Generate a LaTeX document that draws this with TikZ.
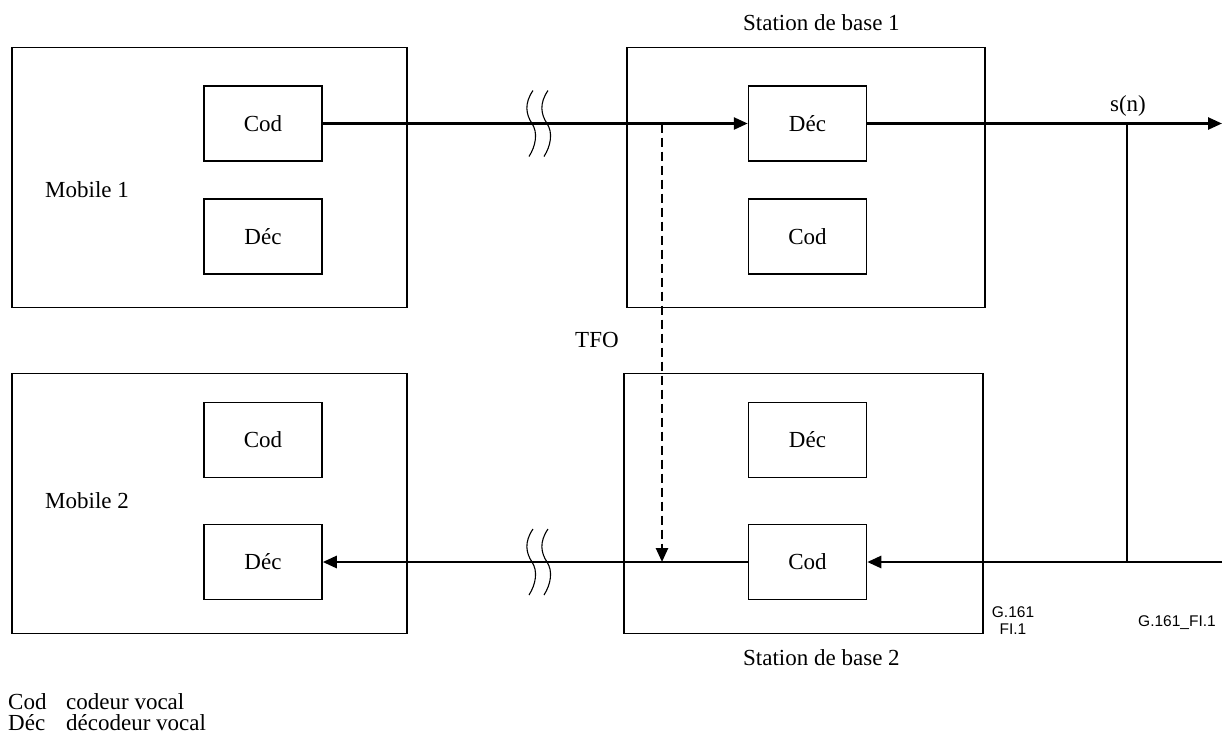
\documentclass[tikz,border=0pt]{standalone}
\usepackage{fontspec}
\setmainfont{Liberation Serif}
\newfontfamily\arialf{Liberation Sans}
\usetikzlibrary{arrows.meta}
\tikzset{
  outerbox/.style={draw, line width=1.3pt, minimum height=260pt, inner sep=0pt},
  codbox/.style={draw, line width=1.5pt, minimum width=118pt, minimum height=75pt, inner sep=0pt, font=\fontsize{23}{27}\selectfont},
  sig/.style={line width=2.6pt, -{Triangle[length=14pt,width=12pt]}},
  wire/.style={line width=2.6pt},
  tfo/.style={line width=2.5pt, dash pattern=on 9pt off 5pt, -{Triangle[length=14pt,width=12pt]}},
  lbl/.style={font=\fontsize{23}{27}\selectfont, inner sep=0pt},
  small/.style={font=\arialf\fontsize{15.5}{18}\selectfont, inner sep=0pt},
  brk/.pic={\draw[line width=1.1pt] (1,-33) .. controls (-8,-20) and (-6,-9) .. (0,0) .. controls (6,9) and (4,22) .. (-3,33);}
}
\begin{document}
\begin{tikzpicture}[x=1pt,y=-1pt]
\useasboundingbox (0,0) rectangle (1224,740);
% outer boxes
\node[outerbox, minimum width=395pt] (m1) at (209.5,177.5) {};
\node[outerbox, minimum width=358pt] (b1) at (806,177.5) {};
\node[outerbox, minimum width=395pt] (m2) at (209.5,503.5) {};
\node[outerbox, minimum width=359pt] (b2) at (803.5,503.5) {};
% inner boxes
\node[codbox] (m1cod) at (263,123.5) {Cod};
\node[codbox] (m1dec) at (263,236.5) {Déc};
\node[codbox] (b1dec) at (807.5,123.5) {Déc};
\node[codbox] (b1cod) at (807.5,236.5) {Cod};
\node[codbox] (m2cod) at (263,440) {Cod};
\node[codbox] (m2dec) at (263,562) {Déc};
\node[codbox] (b2dec) at (807.5,440) {Déc};
\node[codbox] (b2cod) at (807.5,562) {Cod};
% labels
\node[lbl, anchor=base west] (lm1) at (45,197) {Mobile 1};
\node[lbl, anchor=base west] (lm2) at (45,508) {Mobile 2};
\node[lbl, anchor=base west] (lb1) at (743,30) {Station de base 1};
\node[lbl, anchor=base west] (lb2) at (743,665) {Station de base 2};
\node[lbl, anchor=base west] (ltfo) at (575,347) {TFO};
\node[lbl, anchor=base] (lsn) at (1128,111) {s(n)};
\node[small] (g1) at (1013,612) {G.161};
\node[small] (g2) at (1013,629) {FI.1};
\node[small, anchor=west] (g3) at (1138,623) {G.161\_FI.1};
\node[lbl, anchor=base west] (leg1) at (8,709) {Cod};
\node[lbl, anchor=base west] (leg1t) at (66,709) {codeur vocal};
\node[lbl, anchor=base west] (leg2) at (8,730) {Déc};
\node[lbl, anchor=base west] (leg2t) at (66,730) {décodeur vocal};
% coordinates
\coordinate (out1) at (1222,123.5);
\coordinate (j1) at (1127,123.5);
\coordinate (j2) at (1127,562);
\coordinate (in2) at (1222,562);
\coordinate (t1) at (662,123.5);
\coordinate (t2) at (662,562);
% connectors
\draw[sig] (m1cod.east) -- (b1dec.west);
\draw[sig] (b1dec.east) -- (out1);
\draw[wire] (j1) -- (j2);
\draw[sig] (in2) -- (b2cod.east);
\draw[sig] (b2cod.west) -- (m2dec.east);
\draw[tfo] (t1) -- (t2);
% break marks
\pic at (532,123.5) {brk};
\pic at (547,123.5) {brk};
\pic at (532,562) {brk};
\pic at (547,562) {brk};
\end{tikzpicture}
\end{document}
